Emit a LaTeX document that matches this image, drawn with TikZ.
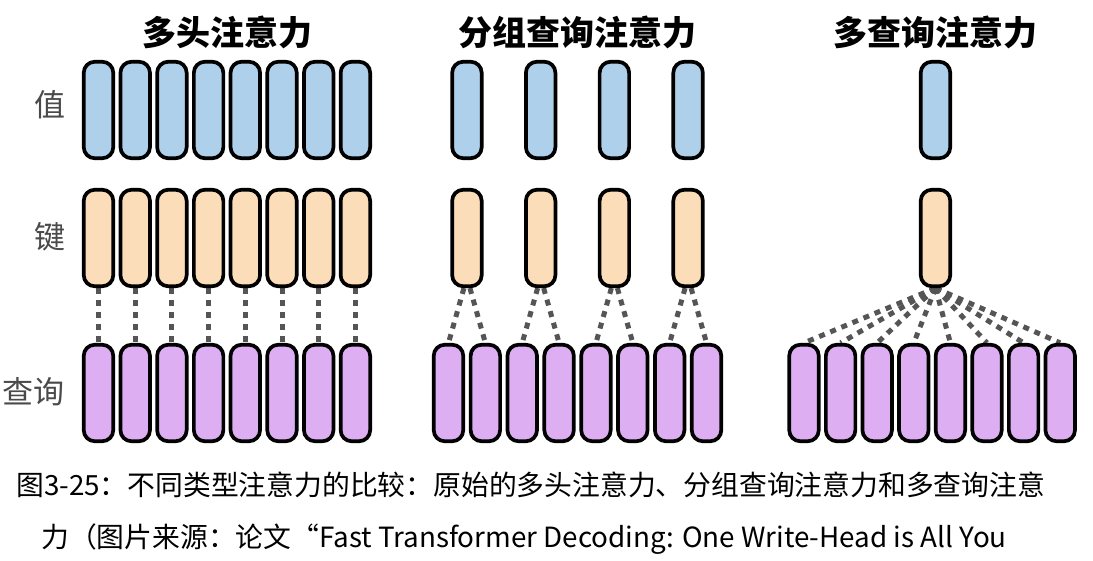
\documentclass[tikz,border=0pt]{standalone}
\usepackage{fontspec}
\newfontfamily\cjk{Noto Sans CJK SC}
\usetikzlibrary{backgrounds}
\definecolor{valblue}{HTML}{AFD0EA}
\definecolor{keyor}{HTML}{FCDDB9}
\definecolor{qpur}{HTML}{DDAEF1}
\definecolor{linkgray}{HTML}{555555}
\definecolor{labgray}{HTML}{4A4A4A}
\begin{document}
\begin{tikzpicture}[x=1pt,y=-1pt,
  bar/.style={draw=black, line width=3.7pt, rounded corners=11pt, minimum width=29.5pt, minimum height=96.5pt, inner sep=0pt},
  vbar/.style={bar, fill=valblue},
  kbar/.style={bar, fill=keyor},
  qbar/.style={bar, fill=qpur},
  link/.style={draw=linkgray, line width=5pt, dash pattern=on 6pt off 6pt},
  ttl/.style={font=\cjk\bfseries\fontsize{34}{34}\selectfont, text=black, inner sep=0pt},
  lab/.style={font=\cjk\fontsize{31}{31}\selectfont, text=labgray, inner sep=0pt},
  captxt/.style={font=\cjk\fontsize{27.8}{28}\selectfont, text=black, inner sep=0pt, anchor=west}]
\useasboundingbox (0,0) rectangle (1093,561);
% titles
\node[ttl] (t1) at (227,32) {多头注意力};
\node[ttl] (t2) at (577,32) {分组查询注意力};
\node[ttl] (t3) at (935.5,32) {多查询注意力};
% row labels
\node[lab] (lv) at (50,105) {值};
\node[lab] (lk) at (50,237) {键};
\node[lab] (lq) at (33,392) {查询};
% multi-head
\foreach \i in {0,...,7}{
  \node[vbar] (mv\i) at ({98.5+36.7*\i},110) {};
  \node[kbar] (mk\i) at ({98.5+36.7*\i},238) {};
  \node[qbar] (mq\i) at ({98.5+36.7*\i},393) {};
}
% grouped-query
\foreach \i in {0,...,7}{
  \node[qbar] (gq\i) at ({448.5+36.86*\i},393) {};
}
\foreach \j in {0,...,3}{
  \node[vbar] (gv\j) at ({448.5+36.86*(2*\j+0.5)},110) {};
  \node[kbar] (gk\j) at ({448.5+36.86*(2*\j+0.5)},238) {};
}
% multi-query
\foreach \i in {0,...,7}{
  \node[qbar] (sq\i) at ({804+36.6*\i},393) {};
}
\node[vbar] (sv) at (935.5,110) {};
\node[kbar] (sk) at (935.5,238) {};
% links
\begin{scope}[on background layer]
\fill[white] (0,0) rectangle (1093,561);
\foreach \i in {0,...,7}{
  \draw[link] (mk\i.south) -- (mq\i.north);
  \draw[link] (sk.south) -- (sq\i.north);
}
\foreach \j [evaluate=\j as \a using int(2*\j), evaluate=\j as \b using int(2*\j+1)] in {0,...,3}{
  \draw[link] ([xshift=-3pt]gk\j.south) -- (gq\a.north);
  \draw[link] ([xshift=3pt]gk\j.south) -- (gq\b.north);
}
\end{scope}
% caption
\node[captxt] (c1) at (16,485) {图3-25：不同类型注意力的比较：原始的多头注意力、分组查询注意力和多查询注意};
\node[captxt] (c2) at (41,539) {力（图片来源：论文“Fast Transformer Decoding: One Write-Head is All You};
\end{tikzpicture}
\end{document}
